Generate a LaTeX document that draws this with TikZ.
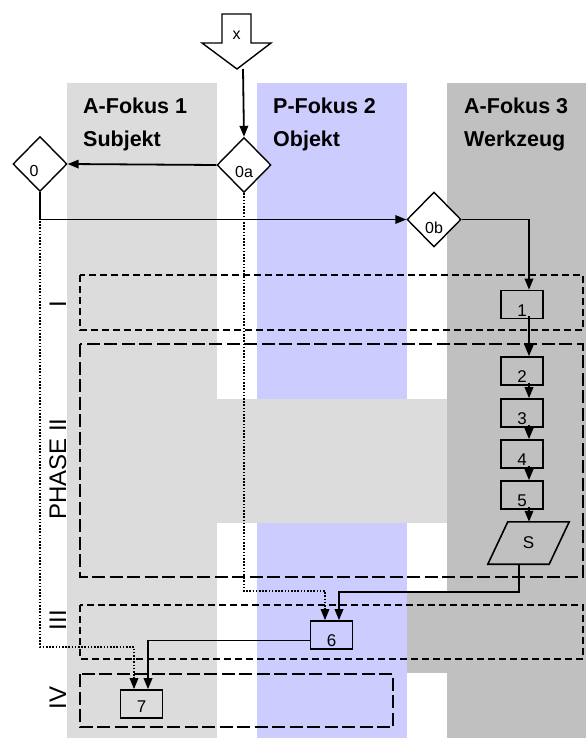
\documentclass[tikz,border=0pt]{standalone}
\usepackage{fontspec}
\setmainfont{Liberation Sans}
\usetikzlibrary{shapes.geometric,arrows.meta}
\definecolor{lgray}{HTML}{DCDCDC}
\definecolor{dgray}{HTML}{C0C0C0}
\definecolor{lblue}{HTML}{CCCCFF}
\newcommand\lowtxt[2]{\raisebox{-#1}[\height][\depth]{#2}}
\begin{document}
\begin{tikzpicture}[x=1pt,y=-1pt,
  conn/.style={line width=1.8pt, -{Triangle[length=11pt,width=8.5pt]}},
  dotc/.style={line width=1.6pt, dash pattern=on 1.6pt off 1.6pt, -{Triangle[length=11pt,width=8.5pt]}},
  shortdash/.style={line width=1.6pt, dash pattern=on 7pt off 4pt},
  longdash/.style={line width=1.6pt, dash pattern=on 13pt off 4.5pt},
  dia/.style={diamond, draw, fill=white, line width=1.4pt, minimum width=54pt, minimum height=55pt, inner sep=0pt, font=\fontsize{16}{18}\selectfont},
  stepbox/.style={rectangle, draw, line width=1.6pt, minimum width=42pt, minimum height=28pt, inner sep=0pt, font=\fontsize{17}{19}\selectfont},
  head/.style={anchor=base west, font=\bfseries\fontsize{21.5}{24}\selectfont, inner sep=0pt},
  phase/.style={anchor=base, rotate=90, font=\fontsize{24}{26}\selectfont, inner sep=0pt}
]
\useasboundingbox (0,0) rectangle (586,738);
% backgrounds
\fill[lgray] (67,83) rectangle (217,738);
\fill[lblue] (257,83) rectangle (407,738);
\fill[dgray] (447,83) rectangle (586,738);
\fill[lgray] (217,399) rectangle (447,523);
\fill[dgray] (407,592) rectangle (447,673);
% phase frames
\draw[shortdash] (80,275) rectangle (583,330);
\draw[longdash] (80,344) rectangle (583,577);
\draw[shortdash] (80,605) rectangle (583,659);
\draw[longdash] (80,674) rectangle (393,727);
% header texts
\node[head] (h1) at (83,114) {A-Fokus 1};
\node[head] (h1b) at (83,147) {Subjekt};
\node[head] (h2) at (273,114) {P-Fokus 2};
\node[head] (h2b) at (273,147) {Objekt};
\node[head] (h3) at (464,114) {A-Fokus 3};
\node[head] (h3b) at (464,147) {Werkzeug};
% phase labels
\node[phase] (p1) at (66,304) {I};
\node[phase] (p2) at (66,469) {PHASE II};
\node[phase] (p3) at (66,620) {III};
\node[phase] (p4) at (66,698) {IV};
% block arrow x
\draw[fill=white, line width=1.4pt] (222,14) -- (251,14) -- (251,43) -- (271,43) -- (237,69) -- (202,43) -- (222,43) -- cycle;
\node[font=\fontsize{16}{18}\selectfont, inner sep=0pt] (xl) at (236.5,35.5) {x};
\coordinate (xtip) at (243,69);
% diamonds
\node[dia] (d0) at (40,164) {\lowtxt{7pt}{\hspace*{-12pt}0}};
\node[dia] (d0a) at (244,165) {\lowtxt{7pt}{0a}};
\node[dia] (d0b) at (434,219.5) {\lowtxt{8pt}{0b}};
% boxes
\node[stepbox] (b1) at (522,304.5) {\lowtxt{6pt}{1}};
\node[stepbox] (b2) at (522,371) {\lowtxt{6pt}{2}};
\node[stepbox] (b3) at (522,413) {\lowtxt{6pt}{3}};
\node[stepbox] (b4) at (522,454) {\lowtxt{6pt}{4}};
\node[stepbox] (b5) at (522,495) {\lowtxt{6pt}{5}};
\node[stepbox] (b6) at (331.5,635) {\lowtxt{6pt}{6}};
\node[stepbox] (b7) at (141.5,704) {\lowtxt{3pt}{7}};
\node[minimum width=61pt, minimum height=42pt, inner sep=0pt, font=\fontsize{17}{19}\selectfont] (S) at (528.5,543) {S};
\draw[line width=1.6pt] ([xshift=10pt]S.north west) -- ([xshift=10pt]S.north east) -- ([xshift=-10pt]S.south east) -- ([xshift=-10pt]S.south west) -- cycle;
% connectors
\coordinate (sturn) at (519,592);
\coordinate (dturn1) at (244,591);
\coordinate (dturn2) at (40,647);
\draw[dotc] (d0a.south) -- (dturn1) -| ([xshift=-6.5pt]b6.north);
\draw[dotc] (d0.south) -- (dturn2) -| ([xshift=-7.5pt]b7.north);
\draw[conn] (xtip) -- (d0a.north);
\draw[conn] (d0a.west) -- (d0.east);
\draw[conn] (d0.south) |- (d0b.west);
\draw[conn] (d0b.east) -| ([xshift=7pt]b1.north);
\draw[conn] ([xshift=7pt,yshift=3pt]b1.south) -- ([xshift=7pt]b2.north);
\draw[conn] ([xshift=7pt,yshift=3pt]b2.south) -- ([xshift=7pt]b3.north);
\draw[conn] ([xshift=7pt,yshift=3pt]b3.south) -- ([xshift=7pt]b4.north);
\draw[conn] ([xshift=7pt,yshift=3pt]b4.south) -- ([xshift=7pt]b5.north);
\draw[conn] ([xshift=7pt,yshift=3pt]b5.south) -- ([xshift=0.5pt]S.north);
\draw[conn] ([xshift=-9.5pt]S.south) -- (sturn) -| ([xshift=7.5pt]b6.north);
\draw[conn] ([yshift=-5.5pt]b6.west) -| ([xshift=6.5pt]b7.north);
\end{tikzpicture}
\end{document}
